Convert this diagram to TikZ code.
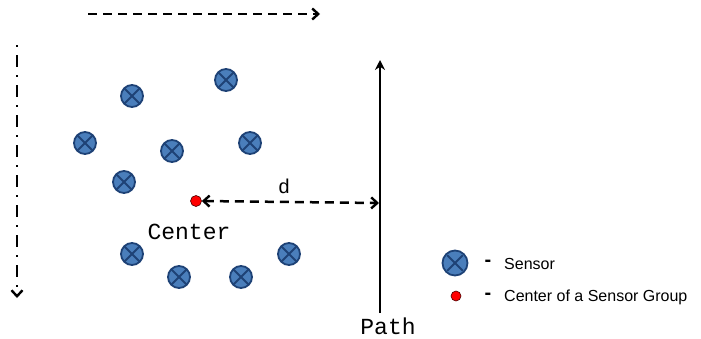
\documentclass[tikz,border=0pt]{standalone}
\usepackage{fontspec}
\setmainfont{Liberation Sans}
\newfontfamily\monof{Liberation Mono}
\usetikzlibrary{arrows.meta}
\definecolor{sfill}{RGB}{74,126,187}
\definecolor{sline}{RGB}{30,66,118}
\definecolor{dotred}{RGB}{255,0,0}
\tikzset{
  sensor/.style={circle,draw=sline,fill=sfill,line width=1.8pt,minimum size=22pt,inner sep=0pt,
    path picture={\draw[sline,line width=1.8pt]
      (path picture bounding box.center) +(45:11pt) -- +(225:11pt)
      (path picture bounding box.center) +(135:11pt) -- +(-45:11pt);}},
  reddot/.style={circle,draw=black!70!red,fill=dotred,line width=0.6pt,minimum size=11pt,inner sep=0pt},
  bhead/.tip={Straight Barb[length=6pt,width=11pt,line width=2.4pt]},
  barb/.style={-bhead},
  dashline/.style={line width=2.5pt,dash pattern=on 9pt off 6pt},
  monolabel/.style={font=\monof\fontsize{23}{26}\selectfont,inner sep=0pt},
  legtext/.style={font=\fontsize{16}{19}\selectfont,anchor=west,inner sep=0pt},
  legdash/.style={font=\bfseries\fontsize{20}{22}\selectfont,anchor=center,inner sep=0pt}
}
\begin{document}
\begin{tikzpicture}[x=1pt,y=-1pt]
\useasboundingbox (0,0) rectangle (701,338);
% direction arrows
\coordinate (ts) at (88,14); \coordinate (te) at (320,14);
\draw[dashline,barb] (ts) -- (te);
\coordinate (ls) at (17,45); \coordinate (le) at (17,298);
\draw[line width=2.5pt,dash pattern=on 2pt off 8pt on 12pt off 8pt,barb] (ls) -- (le);
% sensors
\node[sensor] (s1) at (132,96) {};
\node[sensor] (s2) at (226,80) {};
\node[sensor] (s3) at (85,143) {};
\node[sensor] (s4) at (172,151) {};
\node[sensor] (s5) at (250,143) {};
\node[sensor] (s6) at (124,182) {};
\node[sensor] (s7) at (132,254) {};
\node[sensor] (s8) at (179,277) {};
\node[sensor] (s9) at (241,277) {};
\node[sensor] (s10) at (289,254) {};
% center
\node[reddot] (c) at (196,201) {};
\node[monolabel] (clab) at (189,232) {Center};
% path
\coordinate (pb) at (380,313);
\coordinate (pt) at (380,60);
\draw[line width=2.6pt,-{Stealth[length=10pt,width=10pt]}] (pb) -- (pt);
\node[monolabel] (plab) at (388,326) {Path};
% distance
\coordinate (pd) at (379,203);
\draw[dashline,bhead-bhead] (c.east) -- (pd);
\node[monolabel,font=\monof\fontsize{20}{22}\selectfont] (dlab) at (284,186) {d};
% legend
\node[sensor,minimum size=25pt] (ls1) at (455,263) {};
\node[legdash] (ld1) at (488,263) {-};
\node[legtext] (lt1) at (504,264) {Sensor};
\node[reddot,minimum size=10pt] (lr) at (456,296) {};
\node[legdash] (ld2) at (488,296) {-};
\node[legtext] (lt2) at (504,297) {Center of a Sensor Group};
\end{tikzpicture}
\end{document}
